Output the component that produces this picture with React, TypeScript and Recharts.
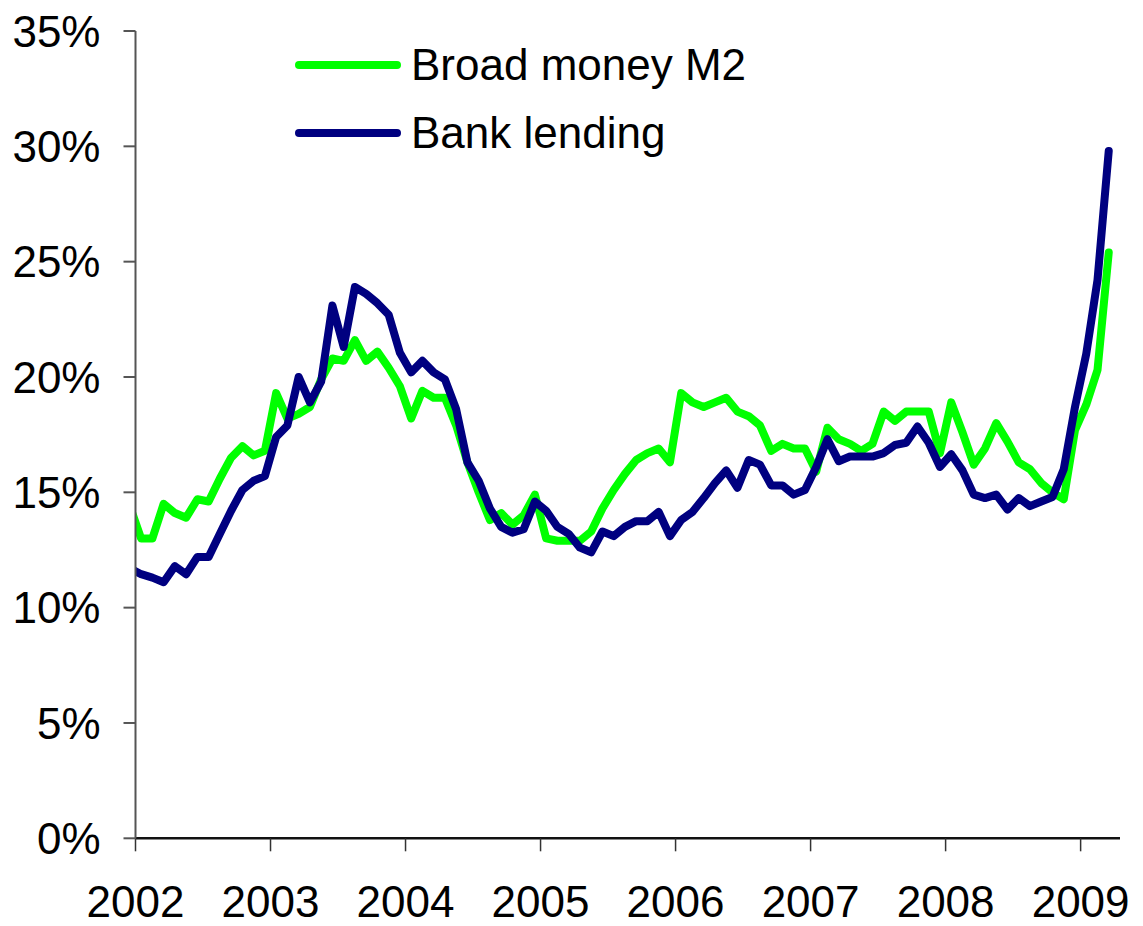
import React from 'react';
import { LineChart, Line, XAxis, YAxis, Legend } from 'recharts';

// Monthly observations, Dec 2001 .. Mar 2009 (year-on-year growth, %)
const broadMoneyM2 = [
  14.4,
  13.0, 13.0, 14.5, 14.1, 13.9, 14.7, 14.6, 15.6, 16.5, 17.0, 16.6, 16.8,
  19.3, 18.2, 18.4, 18.7, 19.9, 20.8, 20.7, 21.6, 20.7, 21.1, 20.4, 19.6,
  18.2, 19.4, 19.1, 19.1, 17.9, 16.3, 15.0, 13.8, 14.1, 13.6, 14.0, 14.9,
  13.0, 12.9, 12.9, 12.9, 13.3, 14.3, 15.1, 15.8, 16.4, 16.7, 16.9, 16.3,
  19.3, 18.9, 18.7, 18.9, 19.1, 18.5, 18.3, 17.9, 16.8, 17.1, 16.9, 16.9,
  15.9, 17.8, 17.3, 17.1, 16.8, 17.1, 18.5, 18.1, 18.5, 18.5, 18.5, 16.7,
  18.9, 17.6, 16.2, 16.9, 18.0, 17.2, 16.3, 16.0, 15.4, 15.0, 14.7, 17.7,
  18.8, 20.3, 25.4,
];

const bankLending = [
  11.7,
  11.45, 11.3, 11.1, 11.8, 11.45, 12.2, 12.2, 13.2, 14.2, 15.1, 15.5, 15.7,
  17.4, 17.9, 20.0, 18.9, 19.8, 23.1, 21.3, 23.9, 23.6, 23.2, 22.7, 21.05,
  20.2, 20.7, 20.2, 19.9, 18.6, 16.3, 15.5, 14.3, 13.5, 13.25, 13.4, 14.6,
  14.2, 13.5, 13.2, 12.6, 12.4, 13.3, 13.1, 13.5, 13.75, 13.75, 14.15, 13.1,
  13.8, 14.15, 14.75, 15.4, 15.95, 15.2, 16.4, 16.2, 15.3, 15.3, 14.9, 15.1,
  16.1, 17.3, 16.35, 16.55, 16.55, 16.55, 16.7, 17.05, 17.15, 17.85, 17.15, 16.1,
  16.65, 15.95, 14.9, 14.75, 14.9, 14.25, 14.75, 14.4, 14.6, 14.8, 16.0, 18.7,
  21.0, 24.2, 29.8,
];

const seriesNames = ['Broad money M2', 'Bank lending'];
const yearLabels = ['2002', '2003', '2004', '2005', '2006', '2007', '2008', '2009'];
const yTicks = [0, 5, 10, 15, 20, 25, 30, 35];

const FIRST_YEAR = 2001;
const FIRST_MONTH = 12; // December 2001

// month labels for each observation
const monthLabels = broadMoneyM2.map((_, i) => {
  const total = FIRST_YEAR * 12 + (FIRST_MONTH - 1) + i;
  const y = Math.floor(total / 12);
  const m = (total % 12) + 1;
  return `${y}-${String(m).padStart(2, '0')}`;
});

// x = months since Jan 2002, observation plotted mid-month
const data = monthLabels.map((label, i) => {
  const [y, m] = label.split('-').map(Number);
  return {
    label,
    x: (y - 2002) * 12 + (m - 1) + 0.5,
    m2: broadMoneyM2[i],
    loans: bankLending[i],
  };
});

const xTicks = yearLabels.map((_, i) => i * 12);

const FONT = '"Liberation Sans", Arial, Helvetica, sans-serif';

const renderLegend = (props: any) => {
  const payload = [...(props.payload || [])].sort(
    (a: any, b: any) => seriesNames.indexOf(a.value) - seriesNames.indexOf(b.value)
  );
  return (
    <div style={{ fontFamily: FONT, fontSize: 44, color: '#000' }}>
      {payload.map((entry: any) => (
        <div
          key={entry.value}
          style={{ display: 'flex', alignItems: 'center', height: 67.5 }}
        >
          <svg width={106} height={12} style={{ display: 'block' }}>
            <line
              x1={4}
              x2={102}
              y1={6}
              y2={6}
              stroke={entry.color}
              strokeWidth={8}
              strokeLinecap="round"
            />
          </svg>
          <span style={{ marginLeft: 10, lineHeight: 1, whiteSpace: 'nowrap' }}>
            {entry.value}
          </span>
        </div>
      ))}
    </div>
  );
};

export default function App() {
  return (
    <div style={{ position: 'absolute', left: 0, top: 0, background: '#fff' }}>
      <LineChart
        width={1143}
        height={926}
        data={data}
        margin={{ top: 31, right: 23, bottom: 27.7, left: 35.5 }}
      >
        <XAxis
          type="number"
          dataKey="x"
          domain={[0, 87.5]}
          allowDataOverflow
          ticks={xTicks}
          tickFormatter={(v: number) => yearLabels[Math.round(v / 12)]}
          height={60}
          tickSize={13}
          tickMargin={34}
          axisLine={{ stroke: '#111', strokeWidth: 2.5 }}
          tickLine={{ stroke: '#333', strokeWidth: 1.5 }}
          tick={{ fill: '#000', fontSize: 44, fontFamily: FONT }}
          interval={0}
        />
        <YAxis
          type="number"
          domain={[0, 35]}
          ticks={yTicks}
          tickFormatter={(v: number) => `${v}%`}
          width={100}
          tickSize={12}
          tickMargin={23}
          axisLine={{ stroke: '#555', strokeWidth: 2 }}
          tickLine={{ stroke: '#555', strokeWidth: 2 }}
          tick={{ fill: '#000', fontSize: 44, fontFamily: FONT }}
          interval={0}
        />
        <Legend
          layout="vertical"
          align="center"
          verticalAlign="middle"
          itemSorter={null as any}
          content={renderLegend}
          wrapperStyle={{ position: 'absolute', left: 295, top: 31.25, width: 500, height: 135 }}
        />
        <Line
          name={seriesNames[0]}
          dataKey="m2"
          type="linear"
          stroke="#00ff00"
          strokeWidth={8}
          strokeLinejoin="round"
          strokeLinecap="round"
          dot={false}
          activeDot={false}
          isAnimationActive={false}
        />
        <Line
          name={seriesNames[1]}
          dataKey="loans"
          type="linear"
          stroke="#000080"
          strokeWidth={8}
          strokeLinejoin="round"
          strokeLinecap="round"
          dot={false}
          activeDot={false}
          isAnimationActive={false}
        />
      </LineChart>
    </div>
  );
}
